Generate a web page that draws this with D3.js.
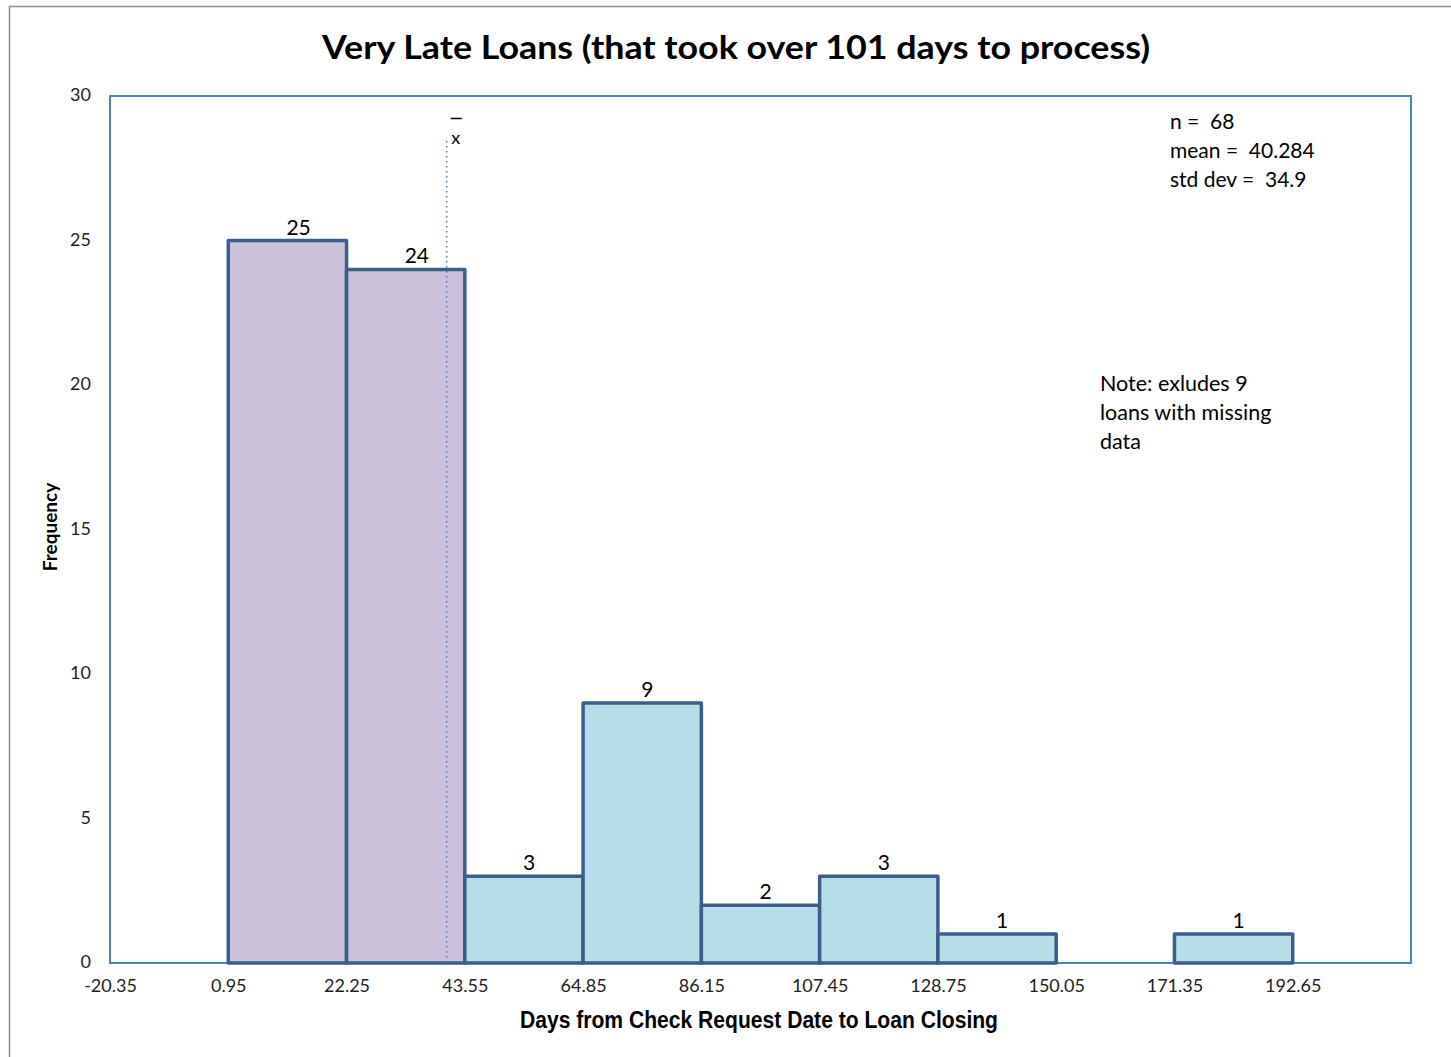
<!DOCTYPE html>
<html>
<head>
<meta charset="utf-8">
<script src="https://cdn.jsdelivr.net/npm/d3@7"></script>
<style>
  body { margin: 0; background: #fff; }
  svg { display: block; }
  text { white-space: pre; }
</style>
</head>
<body>
<svg id="chart" width="1451" height="1057"></svg>
<script>
'use strict';

// histogram data
var binEdges = [0.95, 22.25, 43.55, 64.85, 86.15, 107.45, 128.75, 150.05, 171.35, 192.65];
var counts = [25, 24, 3, 9, 2, 3, 1, 0, 1];
var xTicks = [-20.35, 0.95, 22.25, 43.55, 64.85, 86.15, 107.45, 128.75, 150.05, 171.35, 192.65];
var yTicks = [0, 5, 10, 15, 20, 25, 30];
var meanValue = 40.284;
var statLines = ['n =  68', 'mean =  40.284', 'std dev =  34.9'];
var noteLines = ['Note: exludes 9', 'loans with missing', 'data'];

var belowMeanColor = '#CCC1DA';
var aboveMeanColor = '#B7DEE8';
var barStroke = '#3B5E8C';
var frameColor = '#4F81BD';
var bodyFont = 'Lato, "Open Sans", "Liberation Sans", sans-serif';

var svg = d3.select('#chart');
var plotLeft = 110, plotRight = 1411, plotTop = 96, plotBottom = 963;

var x = d3.scaleLinear().domain([-20.35, 213.95]).range([plotLeft, plotRight]);
var y = d3.scaleLinear().domain([0, 30]).range([plotBottom, plotTop]);

// outer chart border (only top/left visible in the picture)
svg.append('rect').attr('x', 9.5).attr('y', 6.5).attr('width', 1460).attr('height', 1070)
  .attr('fill', 'none').attr('stroke', '#8c8c8c').attr('stroke-width', 1.5);

svg.append('text').attr('x', 736).attr('y', 59).attr('text-anchor', 'middle')
  .attr('font-family', bodyFont).attr('font-weight', 'bold').attr('font-size', 33)
  .attr('textLength', 828).attr('lengthAdjust', 'spacingAndGlyphs')
  .text('Very Late Loans (that took over 101 days to process)');

// plot frame
svg.append('rect').attr('x', plotLeft).attr('y', plotTop).attr('width', plotRight - plotLeft).attr('height', plotBottom - plotTop)
  .attr('fill', 'none').attr('stroke', frameColor).attr('stroke-width', 2);

var bins = counts.map(function (c, i) { return { x0: binEdges[i], x1: binEdges[i + 1], n: c }; });
var filled = bins.filter(function (d) { return d.n > 0; });

svg.append('g').selectAll('rect').data(filled).join('rect')
  .attr('x', function (d) { return x(d.x0); })
  .attr('y', function (d) { return y(d.n); })
  .attr('width', function (d) { return x(d.x1) - x(d.x0); })
  .attr('height', function (d) { return y(0) - y(d.n); })
  .attr('fill', function (d) { return d.x1 <= meanValue + 5 ? belowMeanColor : aboveMeanColor; })
  .attr('stroke', barStroke).attr('stroke-width', 3.5).attr('stroke-linejoin', 'round');

// count labels start at the bin centre, as in the original
svg.append('g').selectAll('text').data(filled).join('text')
  .attr('x', function (d) { return (x(d.x0) + x(d.x1)) / 2 - 1; })
  .attr('y', function (d) { return y(d.n) - 6; })
  .attr('font-family', bodyFont).attr('font-size', 21).attr('fill', '#000')
  .text(function (d) { return d.n; });

// mean line
svg.append('line').attr('x1', x(meanValue)).attr('x2', x(meanValue)).attr('y1', 141).attr('y2', plotBottom)
  .attr('stroke', frameColor).attr('stroke-width', 1.5).attr('stroke-dasharray', '1.5,3.5');
svg.append('text').attr('x', x(meanValue) + 9).attr('y', 144).attr('text-anchor', 'middle')
  .attr('font-family', bodyFont).attr('font-size', 18).text('x');
svg.append('line').attr('x1', x(meanValue) + 4).attr('x2', x(meanValue) + 15).attr('y1', 118.5).attr('y2', 118.5)
  .attr('stroke', '#000').attr('stroke-width', 1.5);

// axes
var fmt2 = function (v) { return v.toFixed(2); };
var xAxis = svg.append('g').attr('transform', 'translate(0,' + plotBottom + ')')
  .call(d3.axisBottom(x).tickValues(xTicks).tickSize(0).tickPadding(0).tickFormat(fmt2));
xAxis.select('.domain').remove();
xAxis.selectAll('text').attr('y', 29).attr('dy', 0).attr('font-family', bodyFont).attr('font-size', 18).attr('fill', '#222');

var yAxis = svg.append('g').attr('transform', 'translate(' + plotLeft + ',0)')
  .call(d3.axisLeft(y).tickValues(yTicks).tickSize(0).tickPadding(0));
yAxis.select('.domain').remove();
yAxis.selectAll('text').attr('x', -19).attr('dy', '0.26em').attr('font-family', bodyFont).attr('font-size', 18).attr('fill', '#222');

svg.append('text').attr('transform', 'translate(57,527) rotate(-90)').attr('text-anchor', 'middle')
  .attr('font-family', bodyFont).attr('font-weight', 'bold').attr('font-size', 19).text('Frequency');

svg.append('text').attr('x', 759).attr('y', 1028).attr('text-anchor', 'middle')
  .attr('font-family', '"Liberation Sans Narrow", "Arial Narrow", "Liberation Sans", sans-serif')
  .attr('font-weight', 'bold').attr('font-size', 23)
  .attr('textLength', 478).attr('lengthAdjust', 'spacingAndGlyphs')
  .text('Days from Check Request Date to Loan Closing');

svg.append('g').selectAll('text').data(statLines).join('text')
  .attr('x', 1170).attr('y', function (d, i) { return 129 + i * 29; })
  .attr('font-family', bodyFont).attr('font-size', 21).text(function (d) { return d; });

svg.append('g').selectAll('text').data(noteLines).join('text')
  .attr('x', 1100).attr('y', function (d, i) { return 391 + i * 29; })
  .attr('font-family', bodyFont).attr('font-size', 21.5).text(function (d) { return d; });
</script>
</body>
</html>
